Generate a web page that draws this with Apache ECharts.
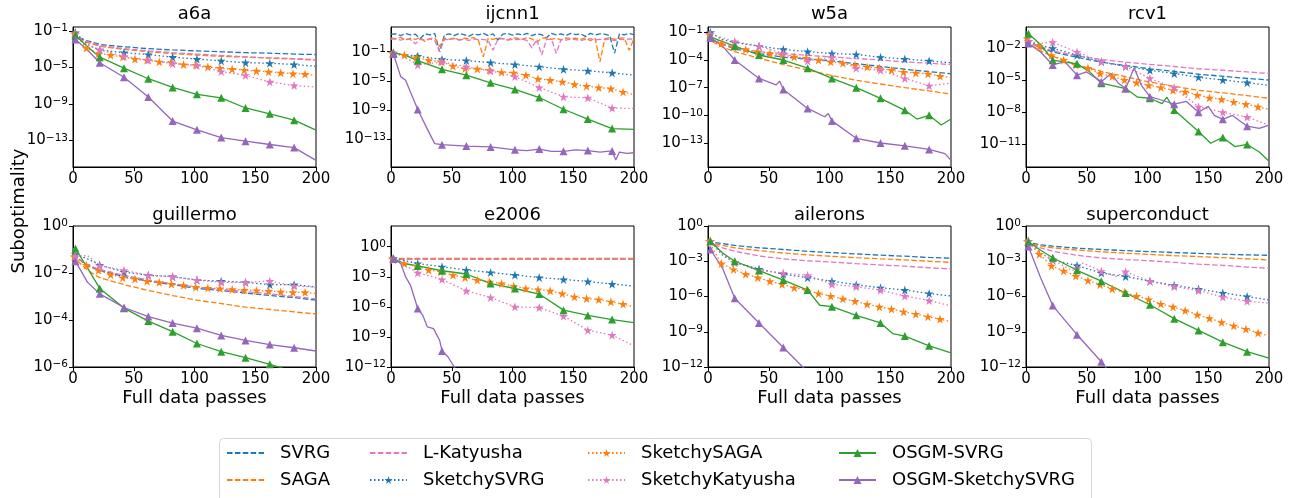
<!DOCTYPE html>
<html>
<head>
<meta charset="utf-8">
<title>Suboptimality vs full data passes</title>
<script src="https://cdn.jsdelivr.net/npm/echarts@6.0.0/dist/echarts.min.js"></script>
</head>
<body style="margin:0;background:#fff">
<div id="main" style="width:1293px;height:498px;"></div>
<script type="text/javascript">
// x positions (full data passes) used by the curves
var passes = [0, 2, 12, 22, 42, 62, 82, 102, 122, 142, 162, 182, 200];
var passesSaga = [0, 1, 11, 21, 31, 41, 51, 61, 71, 81, 91, 101, 111, 121, 131, 141, 151, 161, 171, 181, 191, 200];
var passesNoisy = [0, 4, 8, 12, 16, 20, 24, 28, 32, 36, 40, 44, 48, 52, 56, 60, 64, 68, 72, 76, 80, 84, 88, 92, 96, 100,
    104, 108, 112, 116, 120, 124, 128, 132, 136, 140, 144, 148, 152, 156, 160, 164, 168, 172, 176, 180, 184, 188, 192, 196, 200];
var passesIjcnnK = [0, 2, 8, 12, 22, 30, 36, 42, 62, 82, 102, 112, 122, 132, 142, 152, 162, 172, 182, 185, 188, 194, 200];
var passesW5aO = [0, 2, 12, 22, 42, 62, 82, 102, 122, 142, 162, 172, 182, 192, 200];
var passesW5aK = [0, 2, 12, 22, 42, 56, 59, 62, 82, 96, 99, 102, 122, 142, 162, 182, 195, 200];
var passesRcvO = [0, 2, 12, 22, 42, 52, 62, 82, 92, 102, 112, 116, 122, 142, 152, 162, 172, 182, 192, 200];
var passesRcvK = [0, 2, 12, 22, 32, 42, 50, 62, 70, 76, 82, 89, 95, 102, 112, 122, 132, 142, 150, 155, 162, 170, 182, 192, 200];
var passesE2006K = [0, 2, 8, 12, 16, 22, 26, 30, 35, 40, 42, 47, 52, 56];
var passesAilO = [0, 2, 12, 22, 42, 62, 82, 92, 102, 122, 142, 152, 162, 182, 200];
var passesAilK = [0, 2, 12, 22, 42, 62, 78, 82];
var passesScK = [0, 2, 12, 22, 38, 42, 47, 62, 74, 82, 102, 122, 142, 162, 182, 200];
var passesScO = [0, 2, 12, 22, 42, 62, 66, 70];

// passes where markers are drawn
var marksA = [2, 22, 42, 62, 82, 102, 122, 142, 162, 182];
var marksB = [1, 11, 21, 31, 41, 51, 61, 71, 81, 91, 101, 111, 121, 131, 141, 151, 161, 171, 181, 191];

// y tick values
var ticks_a6a = [1e-13, 1e-9, 1e-5, 1e-1];
var ticks_ijcnn1 = [1e-13, 1e-9, 1e-5, 1e-1];
var ticks_w5a = [1e-13, 1e-10, 1e-7, 1e-4, 1e-1];
var ticks_rcv1 = [1e-11, 1e-8, 1e-5, 1e-2];
var ticks_guillermo = [1e-6, 1e-4, 1e-2, 1];
var ticks_e2006 = [1e-12, 1e-9, 1e-6, 1e-3, 1];
var ticks_ailerons = [1e-12, 1e-9, 1e-6, 1e-3, 1];
var ticks_superconduct = [1e-12, 1e-9, 1e-6, 1e-3, 1];

// a6a
var a6a_svrg = [6.3e-2, 2.5e-2, 8e-3, 3.2e-3, 1.8e-3, 1.1e-3, 8e-4, 6.3e-4, 5e-4, 4e-4, 3.5e-4, 2.8e-4, 2.5e-4];
var a6a_saga = [6.3e-2, 2e-2, 5e-3, 2e-3, 9e-4, 5e-4, 3.2e-4, 2.2e-4, 1.6e-4, 1.3e-4, 1e-4, 8e-5, 6.3e-5];
var a6a_lkat = [6.3e-2, 2.5e-2, 6.3e-3, 2.5e-3, 1.1e-3, 6.3e-4, 4e-4, 2.8e-4, 2e-4, 1.4e-4, 1.1e-4, 9e-5, 7e-5];
var a6a_ssvrg = [8e-2, 6.3e-2, 3.2e-3, 8e-4, 4e-4, 2.5e-4, 1.3e-4, 8e-5, 5e-5, 3.2e-5, 2.8e-5, 2e-5, 1.3e-5];
var a6a_ssaga = [8e-2, 5e-2, 1.3e-3, 3.2e-4, 2.2e-4, 1.4e-4, 8e-5, 6.3e-5, 4e-5, 3.5e-5, 2e-5, 1.8e-5, 1.1e-5, 8e-6, 6.3e-6, 5e-6, 4e-6, 3.2e-6, 2.5e-6, 2e-6, 1.8e-6, 1.3e-6];
var a6a_skat = [6.3e-2, 4e-2, 2.5e-3, 8e-4, 1.6e-4, 6.3e-5, 2.5e-5, 1.6e-5, 3.5e-6, 1.3e-6, 2.5e-7, 1e-7, 7e-8];
var a6a_osvrg = [8e-2, 3.2e-2, 1.8e-3, 1.3e-4, 8e-6, 5.6e-7, 6.3e-8, 1.1e-8, 4.5e-9, 3.5e-10, 8e-11, 1.6e-11, 1.3e-12];
var a6a_osk = [2.5e-2, 1.1e-2, 8e-4, 3.2e-5, 8e-7, 5.6e-9, 1.3e-11, 1.4e-12, 2e-13, 8e-14, 3.5e-14, 1.6e-14, 6.3e-16];

// ijcnn1
var ijcnn1_svrg = [25, 28, 16, 32, 20, 25, 6.3, 28, 20, 32, 0.1, 20, 28, 16, 32, 22, 12.6, 28, 20, 32, 16, 28, 4, 25, 32, 18,
    28, 20, 32, 16, 28, 22, 8, 32, 20, 28, 16, 32, 22, 28, 12.6, 32, 20, 28, 25, 16, 0.063, 28, 20, 32, 22];
var ijcnn1_saga = [8, 6.3, 9, 4, 7, 5, 8, 2.5, 6.3, 8, 0.5, 7, 5, 8, 4, 7, 6.3, 9, 3.2, 0.02, 7, 5, 8, 6.3, 4, 8,
    7, 5, 8, 5.6, 2, 7, 8, 5, 7, 4, 8, 6.3, 7, 5, 8, 3.2, 7, 0.004, 6.3, 8, 5, 7, 8, 0.16, 6.3];
var ijcnn1_lkat = [5, 5.6, 4, 6.3, 4.5, 1.26, 5, 4, 5.6, 3.2, 0.1, 5, 4.5, 6.3, 4, 5, 3.5, 5.6, 4.5, 5, 3.2, 0.16, 5, 6.3, 4, 5,
    4.5, 5.6, 3.2, 0.32, 5, 0.035, 4.5, 5.6, 0.063, 5, 4, 5.6, 4.5, 3.2, 5, 6.3, 4, 5, 4.5, 5.6, 3.2, 5, 4.5, 5.6, 5];
var ijcnn1_ssvrg = [6.3e-2, 6.3e-2, 4e-2, 2.5e-2, 9e-3, 6.3e-3, 3.2e-3, 1.8e-3, 9e-4, 4e-4, 2.5e-4, 1.3e-4, 6.3e-5];
var ijcnn1_ssaga = [8e-2, 6.3e-2, 3.5e-2, 1.6e-2, 7e-3, 4.5e-3, 1.1e-3, 5e-4, 4.5e-4, 3.2e-4, 1.6e-4, 1.3e-4, 6.3e-5, 2e-5, 1.3e-5, 8e-6, 3.5e-6, 2e-6, 1.3e-6, 9e-7, 3.2e-7, 1.4e-7];
var ijcnn1_skat = [8e-2, 8e-2, 1.6e-2, 1.6e-3, 4e-3, 9e-4, 2.5e-4, 4e-5, 1.3e-6, 7e-8, 5e-8, 2e-9, 1.8e-9];
var ijcnn1_osvrg = [8e-2, 7e-2, 3.2e-2, 6.3e-3, 4e-4, 6.3e-5, 5.6e-6, 7e-7, 5.6e-8, 1.4e-9, 6.3e-11, 3.2e-12, 2.5e-12];
var ijcnn1_osk = [8e-2, 5e-2, 4e-5, 1.3e-5, 1.3e-9, 2.5e-12, 2.8e-14, 2e-14, 1.3e-14, 1e-14, 4e-15, 3.2e-15, 5e-15, 2.5e-15, 2.5e-15, 4e-15, 3.2e-15, 2e-15, 2.8e-15, 1.6e-16, 2e-15, 1.3e-15, 1.6e-15];

// w5a
var w5a_svrg = [5e-2, 2e-2, 5e-3, 1.6e-3, 5e-4, 2e-4, 1.3e-4, 8e-5, 4e-5, 2e-5, 1e-5, 5.6e-6, 3.2e-6];
var w5a_saga = [5e-2, 1.3e-2, 2.5e-3, 8e-4, 1.6e-4, 3.2e-5, 8e-6, 2e-6, 6.3e-7, 2.5e-7, 1e-7, 4.5e-8, 2e-8];
var w5a_lkat = [5e-2, 2e-2, 5e-3, 2e-3, 8e-4, 5e-4, 3.2e-4, 2.2e-4, 1.4e-4, 1e-4, 6.3e-5, 4.5e-5, 3.2e-5];
var w5a_ssvrg = [1e-1, 1e-1, 1.6e-2, 8e-3, 3.2e-3, 1.4e-3, 8e-4, 5e-4, 4e-4, 2e-4, 1.3e-4, 8e-5, 5e-5];
var w5a_ssaga = [8e-2, 6.3e-2, 6.3e-3, 2.8e-3, 1.4e-3, 8e-4, 5e-4, 3.5e-4, 2.2e-4, 1.6e-4, 1e-4, 6.3e-5, 4.5e-5, 2.8e-5, 1.8e-5, 1.3e-5, 8e-6, 5e-6, 4e-6, 3.2e-6, 1.8e-6, 1.3e-6];
var w5a_skat = [6.3e-2, 6.3e-2, 2.5e-2, 1e-2, 3.2e-3, 5e-4, 8e-5, 2e-4, 1.3e-5, 8e-6, 1e-6, 1.6e-7, 3.2e-7];
var w5a_osvrg = [6.3e-2, 3.2e-2, 1e-2, 3.2e-3, 3.5e-4, 1e-4, 1.3e-5, 1e-6, 1e-7, 7e-9, 3.5e-10, 4e-11, 1e-10, 9e-12, 4e-11];
var w5a_osk = [5e-2, 2.5e-2, 3.2e-3, 1e-4, 1e-6, 2e-7, 5e-7, 6.3e-8, 5.6e-10, 7e-11, 1.6e-10, 2.5e-11, 3.2e-13, 1e-13, 5e-14, 2e-14, 7e-15, 1.3e-15];

// rcv1
var rcv1_svrg = [5e-2, 3.2e-2, 1e-2, 4e-3, 1.3e-3, 4.5e-4, 2.2e-4, 1.1e-4, 6.3e-5, 3.5e-5, 2.2e-5, 1.4e-5, 1e-5];
var rcv1_saga = [5e-2, 2.5e-2, 5e-3, 1.6e-3, 2.5e-4, 6.3e-5, 2e-5, 6.3e-6, 2.5e-6, 1.1e-6, 6.3e-7, 3.5e-7, 2e-7];
var rcv1_lkat = [5e-2, 3.2e-2, 1.3e-2, 5e-3, 1.8e-3, 8e-4, 4.5e-4, 2.8e-4, 1.8e-4, 1.1e-4, 8e-5, 5.6e-5, 4e-5];
var rcv1_ssvrg = [5e-2, 4e-2, 1.6e-2, 9e-3, 2e-3, 5e-4, 1.8e-4, 8e-5, 4e-5, 1.8e-5, 1e-5, 5.6e-6, 3.2e-6];
var rcv1_ssaga = [6.3e-2, 7e-2, 1.3e-2, 2e-3, 7e-4, 2.5e-4, 1.3e-4, 4e-5, 2.2e-5, 1e-5, 5.6e-6, 3.2e-6, 2e-6, 1.1e-6, 8e-7, 4e-7, 2.2e-7, 1.6e-7, 9e-8, 5.6e-8, 3.2e-8, 1.8e-8];
var rcv1_skat = [5e-2, 4e-2, 2.5e-2, 3.2e-2, 4e-3, 5e-4, 1.8e-4, 1.4e-5, 2e-6, 3.2e-8, 1e-8, 3.5e-9, 6.3e-10];
var rcv1_osvrg = [3.2e-1, 2e-1, 2e-2, 7e-4, 3.2e-4, 6.3e-5, 5e-6, 1.6e-6, 2.5e-7, 2e-7, 6.3e-8, 2.5e-7, 1.6e-8, 1.6e-10, 1.3e-11, 4.5e-11, 6.3e-12, 1e-11, 2e-12, 2.8e-13];
var rcv1_osk = [3.2e-2, 2.5e-2, 4e-3, 2.5e-4, 5e-4, 2.8e-5, 5.6e-5, 7e-6, 4e-5, 5e-6, 1.6e-6, 1.3e-4, 3.2e-6, 2.8e-7, 1.3e-7, 5.6e-8, 1e-7, 1e-8, 3.5e-8, 5e-9, 2.2e-9, 5e-9, 5e-10, 3.2e-10, 6.3e-10];

// guillermo
var guillermo_svrg = [6.3e-2, 5e-2, 2e-2, 1.3e-2, 7e-3, 4.5e-3, 3.2e-3, 2.2e-3, 1.8e-3, 1.4e-3, 1.1e-3, 9e-4, 7e-4];
var guillermo_saga = [6.3e-2, 4e-2, 1.3e-2, 6.3e-3, 3.2e-3, 1.8e-3, 1.1e-3, 7e-4, 5e-4, 3.5e-4, 2.8e-4, 2.2e-4, 1.8e-4];
var guillermo_lkat = [6.3e-2, 5e-2, 2.2e-2, 1.4e-2, 8e-3, 5e-3, 3.5e-3, 2.5e-3, 2e-3, 1.6e-3, 1.3e-3, 1e-3, 8e-4];
var guillermo_ssvrg = [8e-2, 6.3e-2, 4e-2, 2.2e-2, 1.1e-2, 8e-3, 7e-3, 5e-3, 4.5e-3, 4e-3, 3.2e-3, 3.2e-3, 2.5e-3];
var guillermo_ssaga = [6.3e-2, 5e-2, 2.2e-2, 1.3e-2, 8.5e-3, 6.3e-3, 5.6e-3, 4.5e-3, 4e-3, 3.4e-3, 3e-3, 2.5e-3, 2.3e-3, 2.2e-3, 2e-3, 1.9e-3, 1.8e-3, 1.7e-3, 1.6e-3, 1.5e-3, 1.5e-3, 1.35e-3];
var guillermo_skat = [6.3e-2, 5e-2, 5.6e-2, 2e-2, 1.3e-2, 8e-3, 7e-3, 5e-3, 4e-3, 4e-3, 4.5e-3, 2.8e-3, 2.5e-3];
var guillermo_osvrg = [1.1e-1, 1.1e-1, 1.6e-2, 2.2e-3, 3.2e-4, 9e-5, 3.2e-5, 1e-5, 4.5e-6, 2.5e-6, 1.3e-6, 6.3e-7, 4e-7];
var guillermo_osk = [4e-2, 3.2e-2, 4e-3, 1.3e-3, 3.4e-4, 1.4e-4, 7.4e-5, 4.5e-5, 2.2e-5, 1.35e-5, 9e-6, 6.6e-6, 4.8e-6];

// e2006
var e2006_svrg = [6.2e-2, 6.2e-2, 6.2e-2, 6.2e-2, 6.2e-2, 6.2e-2, 6.2e-2, 6.2e-2, 6.2e-2, 6.2e-2, 6.2e-2, 6.2e-2, 6.2e-2];
var e2006_saga = [6.8e-2, 6.8e-2, 6.8e-2, 6.8e-2, 6.8e-2, 6.8e-2, 6.8e-2, 6.8e-2, 6.8e-2, 6.8e-2, 6.8e-2, 6.8e-2, 6.8e-2];
var e2006_lkat = [5.6e-2, 5.6e-2, 5.6e-2, 5.6e-2, 5.6e-2, 5.6e-2, 5.6e-2, 5.6e-2, 5.6e-2, 5.6e-2, 5.6e-2, 5.6e-2, 5.6e-2];
var e2006_ssvrg = [7e-2, 6.8e-2, 4e-2, 2.1e-2, 1e-2, 4.7e-3, 2.7e-3, 1.5e-3, 8.5e-4, 5.4e-4, 3.4e-4, 1.9e-4, 1.2e-4];
var e2006_ssaga = [7e-2, 6.3e-2, 2.1e-2, 1.2e-2, 4.7e-3, 3.2e-3, 1.5e-3, 8.5e-4, 4.7e-4, 3.2e-4, 2.1e-4, 1.2e-4, 6.8e-5, 5.4e-5, 4e-5, 2.1e-5, 1e-5, 6.8e-6, 5.4e-6, 3.2e-6, 1.9e-6, 1e-6];
var e2006_skat = [6.3e-2, 5e-2, 1.3e-2, 2.5e-3, 5.4e-4, 4e-5, 8.5e-6, 1e-6, 8.5e-7, 1.2e-7, 4.7e-9, 1.5e-9, 1.3e-10];
var e2006_osvrg = [7e-2, 6.3e-2, 2e-2, 1.2e-2, 4e-3, 1.9e-3, 2.1e-4, 6.8e-5, 1.9e-5, 4.7e-7, 1.4e-7, 5.4e-8, 2.7e-8];
var e2006_osk = [7e-2, 6.3e-2, 2.1e-2, 1e-3, 1.5e-4, 6.8e-7, 1.5e-7, 1e-8, 6.8e-9, 4.7e-10, 4e-11, 1e-11, 1e-12, 2.1e-13];

// ailerons
var ailerons_svrg = [6.3e-2, 4.5e-2, 3.2e-2, 2.2e-2, 1.4e-2, 1e-2, 7e-3, 5.4e-3, 4.2e-3, 3.3e-3, 2.7e-3, 2.1e-3, 1.8e-3];
var ailerons_saga = [6.3e-2, 4e-2, 2.2e-2, 1.4e-2, 8e-3, 5e-3, 3.5e-3, 2.6e-3, 2e-3, 1.6e-3, 1.3e-3, 1e-3, 8e-4];
var ailerons_lkat = [6.3e-2, 3.5e-2, 1.4e-2, 7e-3, 2.8e-3, 1.6e-3, 1.1e-3, 8.5e-4, 6.3e-4, 4.8e-4, 3.8e-4, 2.8e-4, 2.2e-4];
var ailerons_ssvrg = [6.3e-2, 5e-2, 3.2e-3, 8e-4, 2.2e-4, 8e-5, 4e-5, 2e-5, 1e-5, 5.6e-6, 3.5e-6, 1.8e-6, 1.1e-6];
var ailerons_ssaga = [6.3e-2, 5e-2, 6.3e-4, 2e-4, 8e-5, 4e-5, 2e-5, 1.1e-5, 5.6e-6, 3.5e-6, 1.8e-6, 1.1e-6, 6.3e-7, 4e-7, 2.2e-7, 1.3e-7, 8.5e-8, 5e-8, 3.2e-8, 1.9e-8, 1.2e-8, 7e-9];
var ailerons_skat = [6.3e-2, 5e-2, 4e-3, 8e-4, 1.6e-4, 1e-4, 6.3e-5, 1.1e-5, 6.8e-6, 3.5e-6, 1.1e-6, 4.5e-7, 1.6e-7];
var ailerons_osvrg = [8e-2, 5e-2, 5e-3, 1e-3, 1.6e-4, 2.5e-5, 3.5e-6, 1.8e-7, 1.35e-7, 2.5e-8, 5.6e-9, 7e-10, 4.3e-10, 6.3e-11, 1.6e-11];
var ailerons_osk = [2.5e-2, 1e-2, 2.5e-4, 7e-7, 5.6e-9, 4.5e-11, 1e-12, 4e-13];

// superconduct
var superconduct_svrg = [6.3e-2, 4e-2, 2.5e-2, 1.9e-2, 1.3e-2, 1e-2, 8e-3, 6.6e-3, 5.5e-3, 4.7e-3, 4e-3, 3.5e-3, 3.2e-3];
var superconduct_saga = [6.3e-2, 3.5e-2, 2e-2, 1.4e-2, 9e-3, 6.3e-3, 4.8e-3, 3.8e-3, 3e-3, 2.5e-3, 2e-3, 1.6e-3, 1.3e-3];
var superconduct_lkat = [6.3e-2, 3.5e-2, 1.4e-2, 7e-3, 3.2e-3, 1.9e-3, 1.4e-3, 1.1e-3, 8e-4, 5.6e-4, 4.5e-4, 3.2e-4, 2.5e-4];
var superconduct_ssvrg = [6.3e-2, 5e-2, 5e-3, 1.3e-3, 4.3e-4, 1e-4, 5e-5, 2e-5, 9e-6, 4.3e-6, 2e-6, 1e-6, 5e-7];
var superconduct_ssaga = [6.3e-2, 5e-2, 4e-3, 4e-4, 1.5e-4, 5.6e-5, 2.3e-5, 1e-5, 4.5e-6, 2.3e-6, 1.1e-6, 5.6e-7, 2.3e-7, 1.3e-7, 6.3e-8, 2.8e-8, 1.4e-8, 6.3e-9, 3.2e-9, 1.7e-9, 8e-10, 4.5e-10];
var superconduct_skat = [6.3e-2, 5e-2, 5e-3, 1.3e-3, 1.6e-4, 2.5e-4, 7e-4, 1.4e-4, 5e-5, 1.3e-4, 2e-5, 7e-6, 3.2e-6, 9e-7, 4e-7, 2.7e-7];
var superconduct_osvrg = [8e-2, 4.5e-2, 8.7e-3, 2e-3, 1.7e-4, 2e-5, 2e-6, 2e-7, 1.3e-8, 1.3e-9, 1.3e-10, 2e-11, 5.6e-12];
var superconduct_osk = [4e-2, 1.8e-2, 4e-5, 1.7e-7, 5.6e-10, 2.8e-12, 8e-13, 4e-13];

var STAR = 'path://M50,0L61.2,34.5L97.6,34.5L68.2,55.9L79.4,90.5L50,69.1L20.6,90.5L31.8,55.9L2.4,34.5L38.8,34.5Z';
var DASH = [5.5, 2.4], DOT = [1.5, 2.5];
var methods = [
    {name: 'SVRG', color: '#1f77b4', type: DASH, symbol: 'none'},
    {name: 'SAGA', color: '#ff7f0e', type: DASH, symbol: 'none'},
    {name: 'L-Katyusha', color: '#e377c2', type: DASH, symbol: 'none'},
    {name: 'SketchySVRG', color: '#1f77b4', type: DOT, symbol: STAR, marks: marksA, size: 9},
    {name: 'SketchySAGA', color: '#ff7f0e', type: DOT, symbol: STAR, marks: marksB, size: 9},
    {name: 'SketchyKatyusha', color: '#e377c2', type: DOT, symbol: STAR, marks: marksA, size: 9},
    {name: 'OSGM-SVRG', color: '#2ca02c', type: 'solid', symbol: 'triangle', marks: marksA, size: 8},
    {name: 'OSGM-SketchySVRG', color: '#9467bd', type: 'solid', symbol: 'triangle', marks: marksA, size: 8}
];

var panels = [
    {title: 'a6a', yMin: 1.2e-16, yMax: 0.26, ticks: ticks_a6a, lines: [
        [passes, a6a_svrg], [passes, a6a_saga], [passes, a6a_lkat], [passes, a6a_ssvrg],
        [passesSaga, a6a_ssaga], [passes, a6a_skat], [passes, a6a_osvrg], [passes, a6a_osk]]},
    {title: 'ijcnn1', yMin: 1.8e-17, yMax: 240, ticks: ticks_ijcnn1, lines: [
        [passesNoisy, ijcnn1_svrg], [passesNoisy, ijcnn1_saga], [passesNoisy, ijcnn1_lkat], [passes, ijcnn1_ssvrg],
        [passesSaga, ijcnn1_ssaga], [passes, ijcnn1_skat], [passes, ijcnn1_osvrg], [passesIjcnnK, ijcnn1_osk]]},
    {title: 'w5a', yMin: 2.5e-16, yMax: 0.38, ticks: ticks_w5a, lines: [
        [passes, w5a_svrg], [passes, w5a_saga], [passes, w5a_lkat], [passes, w5a_ssvrg],
        [passesSaga, w5a_ssaga], [passes, w5a_skat], [passesW5aO, w5a_osvrg], [passesW5aK, w5a_osk]]},
    {title: 'rcv1', yMin: 8e-14, yMax: 0.85, ticks: ticks_rcv1, lines: [
        [passes, rcv1_svrg], [passes, rcv1_saga], [passes, rcv1_lkat], [passes, rcv1_ssvrg],
        [passesSaga, rcv1_ssaga], [passes, rcv1_skat], [passesRcvO, rcv1_osvrg], [passesRcvK, rcv1_osk]]},
    {title: 'guillermo', yMin: 1e-6, yMax: 1, ticks: ticks_guillermo, lines: [
        [passes, guillermo_svrg], [passes, guillermo_saga], [passes, guillermo_lkat], [passes, guillermo_ssvrg],
        [passesSaga, guillermo_ssaga], [passes, guillermo_skat], [passes, guillermo_osvrg], [passes, guillermo_osk]]},
    {title: 'e2006', yMin: 1e-12, yMax: 117, ticks: ticks_e2006, lines: [
        [passes, e2006_svrg], [passes, e2006_saga], [passes, e2006_lkat], [passes, e2006_ssvrg],
        [passesSaga, e2006_ssaga], [passes, e2006_skat], [passes, e2006_osvrg], [passesE2006K, e2006_osk]]},
    {title: 'ailerons', yMin: 1e-12, yMax: 1, ticks: ticks_ailerons, lines: [
        [passes, ailerons_svrg], [passes, ailerons_saga], [passes, ailerons_lkat], [passes, ailerons_ssvrg],
        [passesSaga, ailerons_ssaga], [passes, ailerons_skat], [passesAilO, ailerons_osvrg], [passesAilK, ailerons_osk]]},
    {title: 'superconduct', yMin: 1e-12, yMax: 1, ticks: ticks_superconduct, lines: [
        [passes, superconduct_svrg], [passes, superconduct_saga], [passes, superconduct_lkat], [passes, superconduct_ssvrg],
        [passesSaga, superconduct_ssaga], [passesScK, superconduct_skat], [passes, superconduct_osvrg], [passesScO, superconduct_osk]]}
];

var FONT = 'DejaVu Sans';
var colLeft = [73, 391, 708, 1026];
var rowTop = [27, 226];
var rowH = [140, 141];
var plotW = 243;

var grids = [], xAxes = [], yAxes = [], series = [], graphics = [];

function expLabel(v) {
    var e = Math.round(Math.log10(v));
    return '{b|10}{e|' + (e < 0 ? '\u2212' + (-e) : e) + '}';
}

panels.forEach(function (p, i) {
    var r = Math.floor(i / 4), c = i % 4;
    grids.push({left: colLeft[c], top: rowTop[r], width: plotW, height: rowH[r],
        show: true, borderColor: '#000', borderWidth: 1, containLabel: false});
    xAxes.push({type: 'value', gridIndex: i, min: 0, max: 200, interval: 50,
        axisLine: {show: true, lineStyle: {color: '#000', width: 1}},
        axisTick: {show: true, length: 4, lineStyle: {color: '#000', width: 1}},
        axisLabel: {fontSize: 15, fontFamily: FONT, color: '#000', margin: 5},
        splitLine: {show: false}});
    yAxes.push({type: 'log', logBase: 10, gridIndex: i, min: p.yMin, max: p.yMax,
        axisLine: {show: true, lineStyle: {color: '#000', width: 1}},
        axisTick: {show: true, length: 4, lineStyle: {color: '#000', width: 1}, customValues: p.ticks},
        axisLabel: {customValues: p.ticks, margin: 5, formatter: expLabel,
            rich: {
                b: {fontSize: 15, fontFamily: FONT, color: '#000', lineHeight: 16},
                e: {fontSize: 10.5, fontFamily: FONT, color: '#000', lineHeight: 11, verticalAlign: 'top'}
            }},
        splitLine: {show: false}, minorTick: {show: false}});

    p.lines.forEach(function (l, m) {
        var st = methods[m], xs = l[0], ys = l[1];
        series.push({
            name: st.name, type: 'line', xAxisIndex: i, yAxisIndex: i,
            data: xs.map(function (x, k) { return [x, ys[k]]; }),
            symbol: st.symbol, showSymbol: st.symbol !== 'none',
            symbolSize: function (v) { return st.marks && st.marks.indexOf(v[0]) >= 0 ? st.size : 0; },
            lineStyle: {color: st.color, width: 1.3, type: st.type},
            itemStyle: {color: st.color},
            silent: true, clip: true, animation: false
        });
    });

    graphics.push({type: 'text', x: colLeft[c] + plotW / 2, y: r === 0 ? 14.5 : 215,
        style: {text: p.title, font: '18px "' + FONT + '"', fill: '#000', align: 'center', verticalAlign: 'middle'}});
    if (r === 1) {
        graphics.push({type: 'text', x: colLeft[c] + plotW / 2, y: 398,
            style: {text: 'Full data passes', font: '18px "' + FONT + '"', fill: '#000', align: 'center', verticalAlign: 'middle'}});
    }
});

graphics.push({type: 'text', x: 19, y: 211, rotation: Math.PI / 2,
    style: {text: 'Suboptimality', font: '18px "' + FONT + '"', fill: '#000', align: 'center', verticalAlign: 'middle'}});
graphics.push({type: 'rect', z: -1, shape: {x: 219.5, y: 438.5, width: 872, height: 64, r: 4},
    style: {fill: '#fff', stroke: '#d6d6d6', lineWidth: 1}});

// legend in 4 columns; the dashed methods have no marker
var legendCols = [['SVRG', 'SAGA'], ['L-Katyusha', 'SketchySVRG'], ['SketchySAGA', 'SketchyKatyusha'], ['OSGM-SVRG', 'OSGM-SketchySVRG']];
var legendLeft = [226, 369, 587, 838];
var legends = legendCols.map(function (names, k) {
    return {
        data: names.map(function (n) {
            var noMark = methods.filter(function (s) { return s.name === n; })[0].symbol === 'none';
            return noMark ? {name: n, itemStyle: {opacity: 0}} : {name: n};
        }),
        orient: 'vertical', left: legendLeft[k], top: 444, padding: 0,
        itemWidth: 37, itemHeight: 10, itemGap: 9, selectedMode: false,
        textStyle: {fontSize: 18, fontFamily: FONT, color: '#000', lineHeight: 18, padding: [0, 0, 0, 11]}
    };
});

var myChart = echarts.init(document.getElementById('main'), null, {renderer: 'canvas'});
myChart.setOption({
    animation: false,
    backgroundColor: '#fff',
    grid: grids,
    xAxis: xAxes,
    yAxis: yAxes,
    legend: legends,
    graphic: graphics,
    series: series
});
</script>
</body>
</html>
